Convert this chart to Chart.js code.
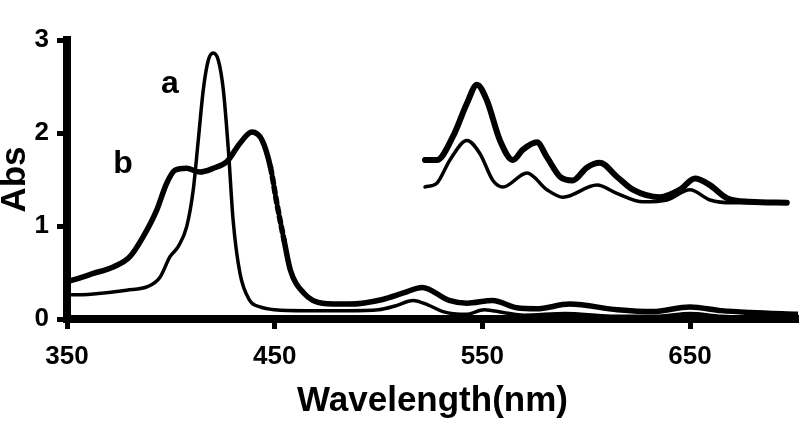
<!DOCTYPE html>
<html lang="en">
<head>
  <meta charset="UTF-8" />
  <script src="https://cdn.jsdelivr.net/npm/chart.js"></script>
  <title>Abs spectra</title>
  <style>
    body { margin: 0; background: #fff; }
    #wrap { width: 800px; height: 425px; }
  </style>
</head>
<body>
  <div id="wrap"><canvas id="chart" width="800" height="425"></canvas></div>
  <script>
    // curve a (thin)
    const waveA = [350, 353, 362.7, 378.7, 389, 394.8, 399.6, 403.6, 407.6, 410.8, 413.2, 415.6, 418, 420.4, 422.9, 425.3, 427.7, 430, 433.3, 438, 443, 450, 465, 485, 500, 508, 516.6, 524, 531, 542, 551, 560, 570, 590, 612, 635, 650, 665, 702];
    const absA = [0.26, 0.26, 0.27, 0.31, 0.35, 0.45, 0.67, 0.78, 0.99, 1.39, 1.92, 2.46, 2.78, 2.86, 2.78, 2.46, 1.82, 1.06, 0.49, 0.2, 0.13, 0.1, 0.09, 0.09, 0.1, 0.14, 0.2, 0.15, 0.08, 0.05, 0.1, 0.07, 0.04, 0.06, 0.03, 0.03, 0.06, 0.03, 0.01];

    // curve b (thick)
    const waveB = [350, 353, 362.7, 372.3, 380.3, 386.7, 393.2, 398, 402, 407.6, 414, 420.4, 426.9, 433.3, 439, 444, 448, 451, 454.5, 457.5, 464, 473, 486, 502, 512, 521, 534, 542.6, 555, 566.6, 576, 592, 615, 632, 650, 665, 679, 702];
    const absB = [0.4, 0.42, 0.49, 0.56, 0.67, 0.885, 1.17, 1.46, 1.6, 1.62, 1.58, 1.62, 1.69, 1.89, 2.01, 1.92, 1.63, 1.25, 0.85, 0.53, 0.28, 0.17, 0.16, 0.21, 0.28, 0.34, 0.2, 0.17, 0.2, 0.12, 0.11, 0.16, 0.1, 0.08, 0.13, 0.09, 0.07, 0.05];

    // enlarged Q-band region (inset), thin = a, thick = b
    const waveAQ = [522.4, 528.1, 534.4, 542.6, 548.8, 555.1, 559.9, 571.5, 581.1, 588.8, 605.2, 614.8, 627.3, 638.9, 650, 659.6, 670.7, 696.6];
    const absAQ = [1.42, 1.46, 1.71, 1.92, 1.78, 1.49, 1.42, 1.57, 1.39, 1.31, 1.44, 1.35, 1.26, 1.28, 1.39, 1.28, 1.25, 1.25];
    const waveBQ = [522.4, 528.1, 535.8, 542.6, 547.4, 552.2, 558.5, 564.7, 569.5, 576.3, 581.1, 587.4, 593.6, 600.4, 606.6, 614.8, 622.5, 635.5, 645.1, 652.4, 659.6, 667.8, 678.8, 696.6];
    const absBQ = [1.71, 1.71, 1.96, 2.32, 2.52, 2.35, 1.92, 1.71, 1.82, 1.9, 1.74, 1.53, 1.49, 1.63, 1.68, 1.53, 1.39, 1.31, 1.39, 1.51, 1.44, 1.3, 1.26, 1.25];

    const xTicks = [350, 450, 550, 650];
    const yTicks = [0, 1, 2, 3];

    const pts = (xs, ys) => xs.map((x, i) => ({ x: x, y: ys[i] }));
    const FONT = "'Liberation Sans', Arial, sans-serif";

    function line(data, width) {
      return {
        data: data,
        borderColor: '#000',
        borderWidth: width,
        pointRadius: 0,
        fill: false,
        cubicInterpolationMode: 'monotone',
        borderCapStyle: 'round',
        borderJoinStyle: 'round'
      };
    }

    const dsB = line(pts(waveB, absB), 5.5);
    // dashed piece on the falling side of b
    dsB.segment = {
      borderDash: ctx => (ctx.p0.parsed.x >= 447 && ctx.p1.parsed.x <= 455) ? [6, 4] : undefined
    };

    // curve letters a / b
    const letters = {
      id: 'letters',
      afterDatasetsDraw(chart) {
        const { ctx, scales } = chart;
        ctx.save();
        ctx.fillStyle = '#000';
        ctx.font = 'bold 32px ' + FONT;
        ctx.textAlign = 'center';
        ctx.textBaseline = 'middle';
        ctx.fillText('a', scales.x.getPixelForValue(399.6), scales.y.getPixelForValue(2.52));
        ctx.fillText('b', scales.x.getPixelForValue(377), scales.y.getPixelForValue(1.66));
        ctx.restore();
      }
    };

    new Chart(document.getElementById('chart'), {
      type: 'line',
      data: {
        datasets: [
          line(pts(waveA, absA), 3.5),
          dsB,
          line(pts(waveAQ, absAQ), 3.5),
          line(pts(waveBQ, absBQ), 6)
        ]
      },
      options: {
        responsive: false,
        animation: false,
        devicePixelRatio: 1,
        layout: { padding: { top: 40, right: 2, left: 0, bottom: 0 } },
        plugins: { legend: { display: false }, tooltip: { enabled: false } },
        scales: {
          x: {
            type: 'linear',
            min: 350,
            max: 702,
            afterBuildTicks: s => { s.ticks = xTicks.map(v => ({ value: v })); },
            afterFit: s => { s.height = 106; },
            border: { display: true, color: '#000', width: 8 },
            grid: { drawOnChartArea: false, drawTicks: true, tickLength: 10, tickWidth: 5, tickColor: '#000' },
            ticks: { color: '#000', padding: 12, maxRotation: 0, font: { family: FONT, size: 26, weight: 'bold' } },
            title: {
              display: true,
              text: 'Wavelength(nm)',
              color: '#000',
              padding: { top: 0, bottom: 3 },
              font: { family: FONT, size: 35, weight: 'bold' }
            }
          },
          y: {
            min: 0,
            max: 3,
            afterBuildTicks: s => { s.ticks = yTicks.map(v => ({ value: v })); },
            afterFit: s => { s.width = 67; },
            border: { display: true, color: '#000', width: 8 },
            grid: { drawOnChartArea: false, drawTicks: true, tickLength: 10, tickWidth: 5, tickColor: '#000' },
            ticks: { color: '#000', padding: 8, font: { family: FONT, size: 26, weight: 'bold' } },
            title: {
              display: true,
              text: 'Abs',
              color: '#000',
              padding: 0,
              font: { family: FONT, size: 35, weight: 'bold', lineHeight: 0.9 }
            }
          }
        }
      },
      plugins: [letters]
    });
  </script>
</body>
</html>
